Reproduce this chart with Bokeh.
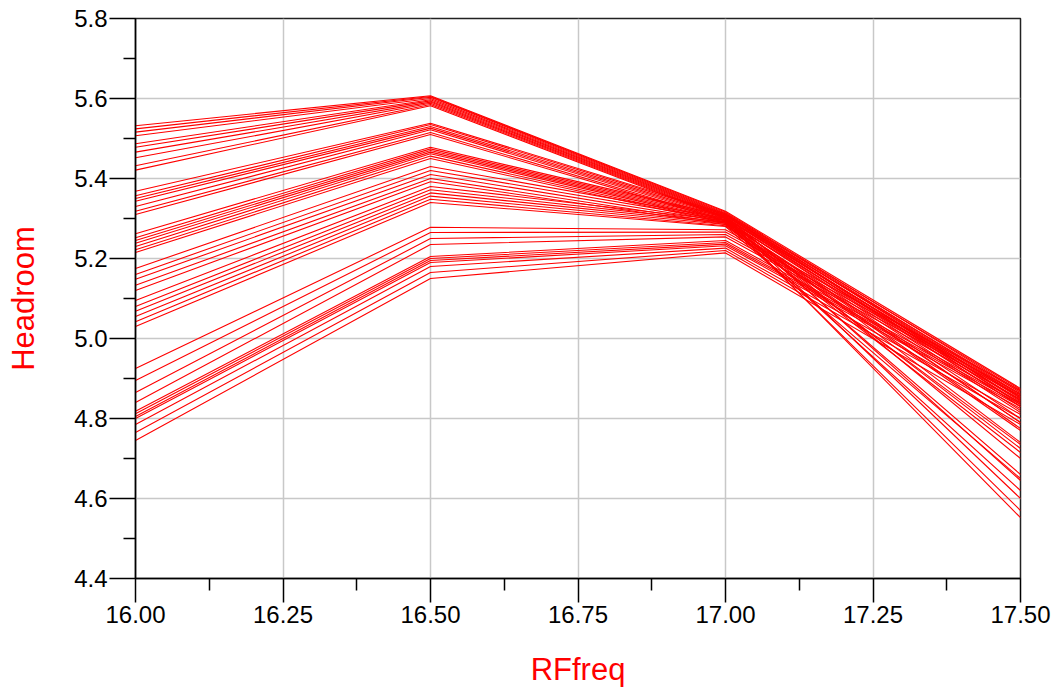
from bokeh.plotting import figure
from bokeh.embed import file_html
from bokeh.resources import INLINE
from bokeh.models import FixedTicker, NumeralTickFormatter

# RF frequency sweep points
rf_freq = [16.00, 16.50, 17.00, 17.50]

# Headroom of each swept trace at each frequency (one entry per trace)
headroom_16_00 = [5.532, 5.524, 5.516, 5.507, 5.487, 5.478, 5.466, 5.452, 5.432, 5.421,
                  5.368, 5.357, 5.350, 5.343, 5.330, 5.318, 5.310,
                  5.262, 5.252, 5.245, 5.238, 5.230, 5.222, 5.215,
                  5.175, 5.160, 5.148, 5.133, 5.120,
                  5.095, 5.080, 5.068, 5.055, 5.042, 5.030,
                  4.925, 4.895, 4.865, 4.840, 4.818, 4.812, 4.805, 4.800, 4.785, 4.765, 4.745]
headroom_16_50 = [5.607, 5.605, 5.603, 5.600, 5.597, 5.594, 5.591, 5.588, 5.585, 5.582,
                  5.538, 5.535, 5.530, 5.526, 5.522, 5.515, 5.510,
                  5.478, 5.474, 5.470, 5.466, 5.462, 5.456, 5.450,
                  5.430, 5.420, 5.410, 5.400, 5.392,
                  5.380, 5.372, 5.364, 5.356, 5.348, 5.340,
                  5.278, 5.265, 5.250, 5.235, 5.205, 5.200, 5.195, 5.190, 5.180, 5.165, 5.150]
headroom_17_00 = [5.318, 5.316, 5.314, 5.312, 5.310, 5.308, 5.306, 5.304, 5.302, 5.300,
                  5.312, 5.309, 5.306, 5.303, 5.300, 5.297, 5.294,
                  5.306, 5.303, 5.300, 5.297, 5.294, 5.291, 5.288,
                  5.300, 5.296, 5.292, 5.288, 5.285,
                  5.295, 5.291, 5.288, 5.285, 5.282, 5.280,
                  5.272, 5.266, 5.260, 5.254, 5.245, 5.240, 5.236, 5.232, 5.226, 5.220, 5.214]
headroom_17_50 = [4.875, 4.868, 4.860, 4.852, 4.842, 4.835, 4.700, 4.645, 4.600, 4.552,
                  4.872, 4.858, 4.845, 4.830, 4.740, 4.660, 4.570,
                  4.865, 4.850, 4.838, 4.820, 4.790, 4.725, 4.620,
                  4.855, 4.830, 4.800, 4.775, 4.715,
                  4.845, 4.815, 4.790, 4.770, 4.735, 4.650,
                  4.870, 4.862, 4.855, 4.848, 4.840, 4.835, 4.830, 4.825, 4.810, 4.800, 4.785]

x_ticks = [16.00, 16.25, 16.50, 16.75, 17.00, 17.25, 17.50]
y_ticks = [4.4, 4.6, 4.8, 5.0, 5.2, 5.4, 5.6, 5.8]

xs = [list(rf_freq) for _ in headroom_16_00]
ys = [[a, b, c, d] for a, b, c, d in zip(headroom_16_00, headroom_16_50, headroom_17_00, headroom_17_50)]

p = figure(width=1060, height=698, output_backend="svg", toolbar_location=None,
           x_range=(16.0, 17.5), y_range=(4.4, 5.8),
           min_border_left=135, min_border_right=40, min_border_top=18, min_border_bottom=120)

p.multi_line(xs, ys, line_color="#ff0000", line_width=1.1)

p.outline_line_color = "#222222"
p.outline_line_width = 1.5

p.xaxis.ticker = FixedTicker(ticks=x_ticks, minor_ticks=[16.125, 16.375, 16.625, 16.875, 17.125, 17.375])
p.yaxis.ticker = FixedTicker(ticks=y_ticks, minor_ticks=[4.5, 4.7, 4.9, 5.1, 5.3, 5.5, 5.7])
p.xaxis.formatter = NumeralTickFormatter(format="0.00")
p.yaxis.formatter = NumeralTickFormatter(format="0.0")

for ax in (p.xaxis[0], p.yaxis[0]):
    ax.axis_line_color = "black"
    ax.axis_line_width = 1.5
    ax.major_tick_line_color = "black"
    ax.minor_tick_line_color = "black"
    ax.major_tick_line_width = 1.5
    ax.minor_tick_line_width = 1.5
    ax.major_tick_in = 0
    ax.minor_tick_in = 0
    ax.major_label_text_font = "Liberation Sans"
    ax.major_label_text_font_size = "24px"
    ax.major_label_text_color = "black"
    ax.axis_label_text_font = "Liberation Sans"
    ax.axis_label_text_font_size = "31px"
    ax.axis_label_text_font_style = "normal"
    ax.axis_label_text_color = "#ff0000"

p.xaxis.major_tick_out = 24
p.xaxis.minor_tick_out = 12
p.yaxis.major_tick_out = 26
p.yaxis.minor_tick_out = 12
p.xaxis.major_label_standoff = 3
p.yaxis.major_label_standoff = 2
p.xaxis.axis_label = "RFfreq"
p.yaxis.axis_label = "Headroom"
p.xaxis.axis_label_standoff = 26
p.yaxis.axis_label_standoff = 30

p.xgrid.ticker = FixedTicker(ticks=x_ticks)
p.ygrid.ticker = FixedTicker(ticks=y_ticks)
p.grid.grid_line_color = "#c8c8c8"
p.grid.grid_line_width = 1.5

p.background_fill_color = "white"
p.border_fill_color = "white"

open("out.html", "w").write(file_html(p, INLINE))
